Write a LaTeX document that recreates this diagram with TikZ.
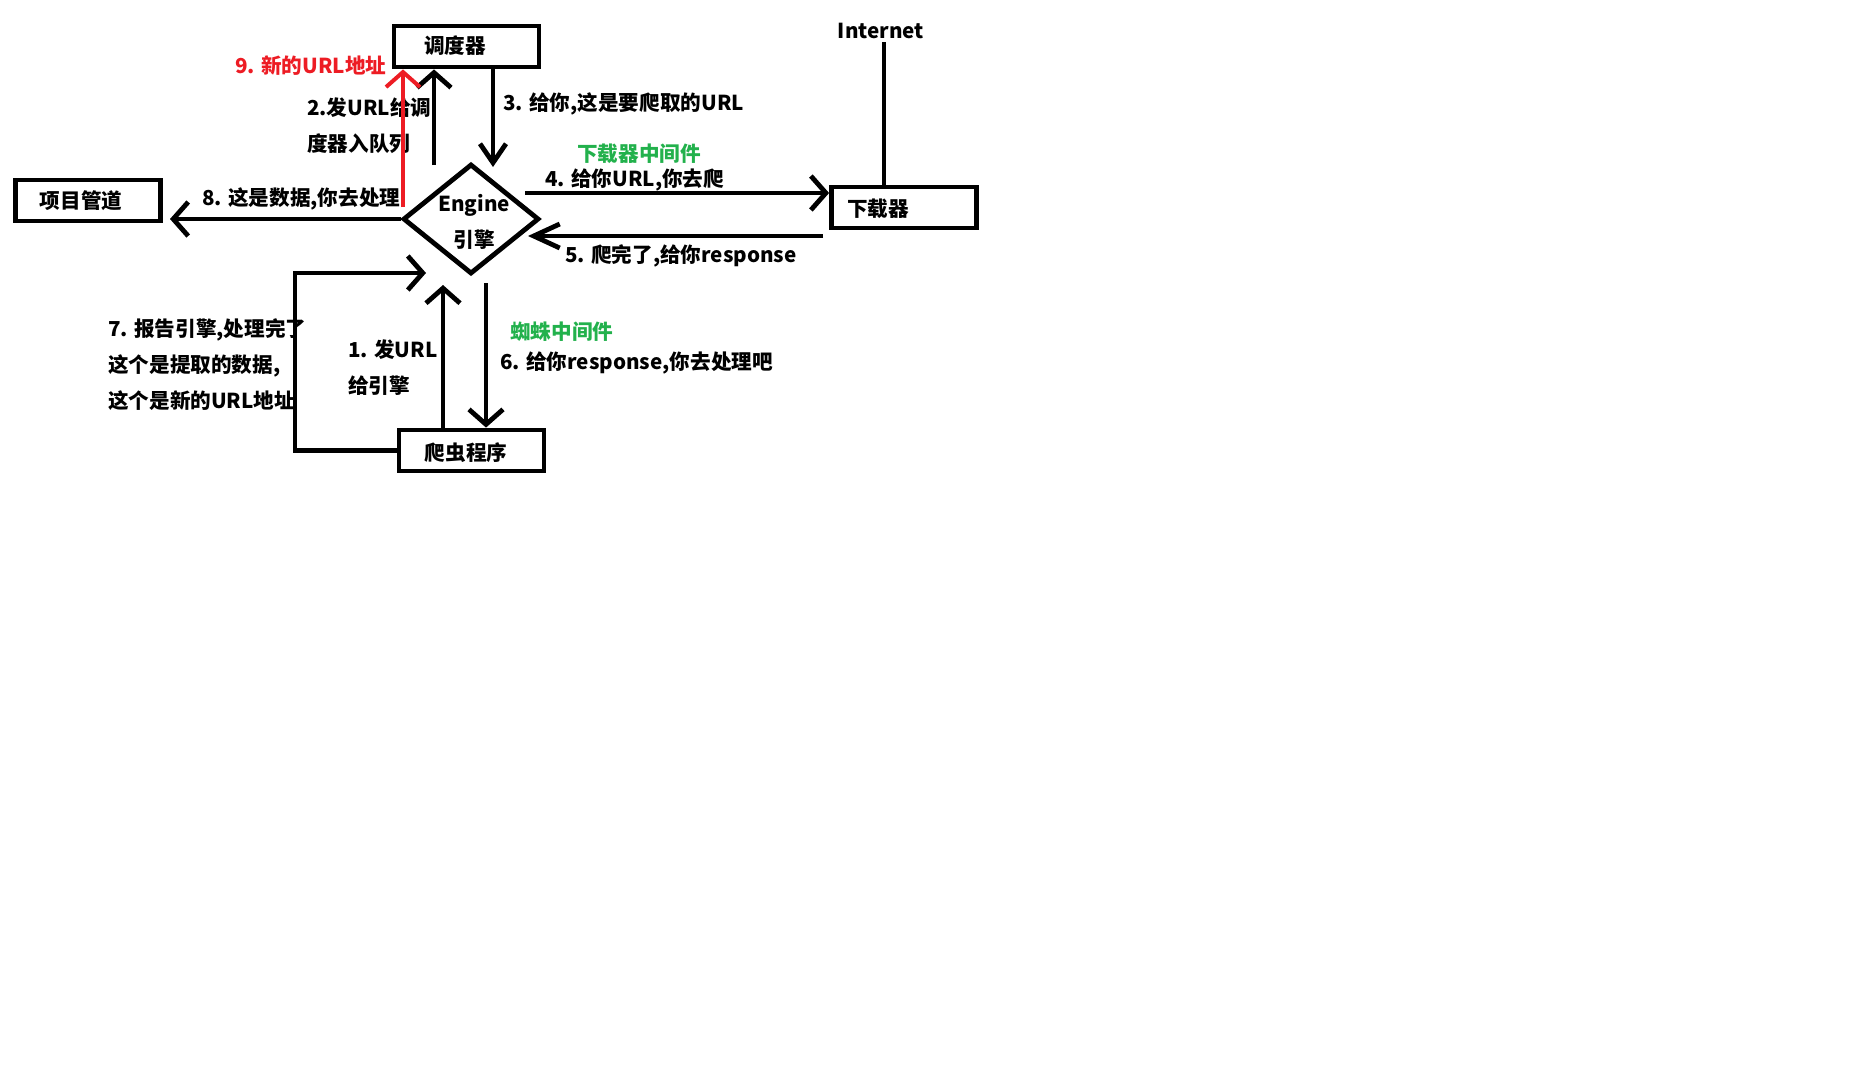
\documentclass[tikz,border=0pt]{standalone}
\usepackage{fontspec}
\setmainfont{Noto Sans CJK SC}
\usetikzlibrary{arrows.meta,shapes.geometric}
\definecolor{pred}{RGB}{237,28,36}
\definecolor{pgreen}{RGB}{34,177,76}
\begin{document}
\begin{tikzpicture}[x=1pt,y=-1pt,
  every node/.style={font=\fontsize{20.6}{36}\selectfont\bfseries, inner sep=0pt},
  box/.style={draw, line width=4.8pt, minimum width=145pt, minimum height=41pt},
  wire/.style={line width=4.8pt},
  arr/.style={wire, -{Straight Barb[length=15pt,width=34pt]}},
  arrlong/.style={wire, -{Straight Barb[length=26pt,width=24pt]}},
  arrnarrow/.style={wire, -{Straight Barb[length=19pt,width=26pt]}},
  lbl/.style={anchor=west, align=left}
]
\fill[white] (0,0) rectangle (1854,1090);
\useasboundingbox (0,0) rectangle (1854,1090);

% boxes
\node[box, label={[xshift=-11.5pt,yshift=1pt]center:调度器}] (sched) at (466.5,46.5) {};
\node[box, label={[xshift=-7pt]center:项目管道}] (pipe) at (88,200.5) {};
\node[box, label={[xshift=-26pt,yshift=-1.5pt]center:下载器}] (dl) at (904,207.5) {};
\node[box, label={[xshift=-5.5pt,yshift=-2.5pt]center:爬虫程序}] (spider) at (471.5,450.5) {};
\node[draw, diamond, line width=4.8pt, minimum width=136pt, minimum height=110pt] (eng) at (471,219) {};
\node[align=center] (engt) at (474,222) {Engine\\引擎};
\node (inet) at (881,31) {Internet};

% texts
\node[lbl, text=pred] (t9) at (235,66) {9. 新的URL地址};
\node[lbl] (t2) at (307,126) {2.发URL给调\\度器入队列};
\node[lbl] (t3) at (503,104) {3. 给你,这是要爬取的URL};
\node[lbl] (t8) at (202,199) {8. 这是数据,你去处理};
\node[lbl, text=pgreen] (tm1) at (577,154) {下载器中间件};
\node[lbl] (t4) at (545,180) {4. 给你URL,你去爬};
\node[lbl] (t5) at (565,256) {5. 爬完了,给你response};
\node[lbl] (t7) at (108,365) {7. 报告引擎,处理完了\\这个是提取的数据,\\这个是新的URL地址};
\node[lbl] (t1) at (348,368) {1. 发URL\\给引擎};
\node[lbl, text=pgreen] (tm2) at (510,332) {蜘蛛中间件};
\node[lbl] (t6) at (500,363) {6. 给你response,你去处理吧};

% free ends
\coordinate (c1) at (443,285);
\coordinate (c2) at (434,165);
\coordinate (c3) at (493,167);
\coordinate (c4) at (525,193);
\coordinate (c5) at (528,236);
\coordinate (c6) at (486,283);
\coordinate (c7) at (295,273);
\coordinate (c7t) at (426,273);
\coordinate (c8) at (170,217);
\coordinate (c9) at (403,207);
\coordinate (c10) at (884,42);

% connectors
\draw[arr] (spider.north -| c1) -- (c1);
\draw[arr] (c2) -- (c2 |- sched.south);
\draw[arrnarrow] (c3 |- sched.south) -- (c3);
\draw[arr] (c4) -- (c4 -| dl.west);
\draw[arrlong] ([xshift=-6pt]c5 -| dl.west) -- (c5);
\draw[arr] (c6) -- (c6 |- spider.north);
\draw[arr] (spider.west) -| (c7) -- (c7t);
\draw[arr] (eng.west) -- (c8 |- eng.west);
\draw[line width=4pt] (c10 |- dl.north) -- (c10);
\draw[arr, pred, line width=4pt] (c9) -- (c9 |- sched.south);
\end{tikzpicture}
\end{document}
